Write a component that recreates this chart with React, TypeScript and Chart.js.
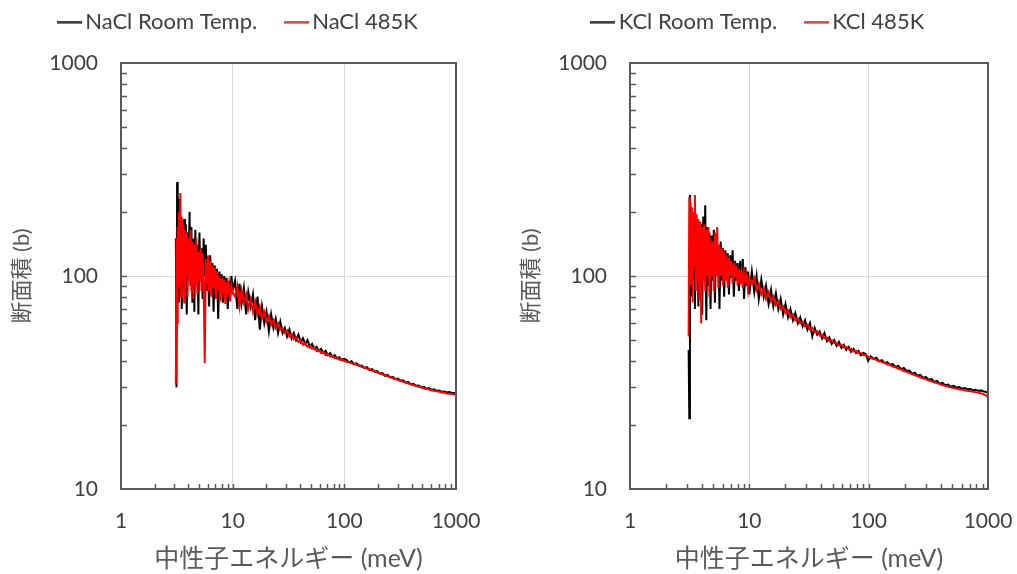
import React, { useEffect, useRef } from "react";
import { Chart, registerables } from "chart.js";

Chart.register(...registerables);

// Neutron energy (meV) sampling points (shared by both panels)
const energy = [
  3.10, 3.14, 3.18, 3.22, 3.26, 3.30, 3.35, 3.40, 3.45, 3.50, 3.56, 3.62, 3.68, 3.74, 3.81, 3.88, 3.95,
  4.03, 4.11, 4.19, 4.27, 4.36, 4.45, 4.54, 4.63, 4.73, 4.83, 4.93, 5.04, 5.15, 5.26, 5.38, 5.50, 5.62,
  5.75, 5.88, 6.01, 6.15, 6.29, 6.44, 6.59, 6.75, 6.91, 7.07, 7.24, 7.42, 7.60, 7.79, 7.98, 8.18, 8.38,
  8.59, 8.81, 9.03, 9.26, 9.50, 9.75, 10.0,
  10.5, 11.0, 11.5, 12.0, 12.6, 13.2, 13.8, 14.5, 15.2, 15.9, 16.7, 17.5, 18.3, 19.2, 20.1, 21.1, 22.1,
  23.2, 24.3, 25.5, 26.7, 28.0, 29.3, 30.7, 32.2, 33.7, 35.3, 37.0, 38.8, 40.7, 42.6, 44.7, 46.8, 49.0,
  51.4, 53.8, 56.4, 59.1, 61.9, 64.9, 68.0, 71.2, 74.7, 78.3, 82.0, 86.0, 90.1, 94.4, 99.0,
  104, 110, 116, 122, 129, 136, 143, 151, 159, 168, 177, 187, 197, 208, 219, 231, 244, 257, 271, 286,
  302, 318, 336, 354, 373, 394, 415, 438, 462, 487, 514, 542, 572, 603, 636, 671, 708, 747, 788, 831,
  877, 925, 976, 1000,
];

const naclRoom = [
  150, 30, 276, 120, 230, 75, 190, 95, 180, 70, 170, 110, 185, 80, 175, 66, 160,
  105, 200, 90, 170, 75, 150, 68, 165, 100, 140, 66, 160, 95, 135, 78, 150, 100,
  140, 85, 120, 72, 125, 95, 115, 68, 112, 88, 108, 63, 105, 85, 102, 75, 100,
  88, 98, 70, 95, 82, 100, 86,
  95, 70, 92, 74, 88, 66, 84, 72, 82, 62, 80, 56, 72, 60, 68, 55, 66,
  57, 63, 54, 61, 54, 57, 52, 56, 51, 54, 50, 53, 49, 51, 48, 50, 46.5,
  48, 45.5, 46.5, 44.5, 45.5, 43.5, 44.5, 42.5, 43.5, 41.8, 42.5, 41, 41.5, 40.2, 40.8,
  40.5, 39.3, 39.8, 38.6, 38.9, 37.8, 38.0, 37.0, 37.3, 36.2, 36.5, 35.5, 35.8, 34.8, 35.0, 34.0, 34.3, 33.4, 33.6, 32.8,
  33.0, 32.2, 32.4, 31.6, 31.8, 31.0, 31.2, 30.5, 30.6, 30.0, 30.2, 29.6, 29.8, 29.2, 29.4, 28.9, 29.0, 28.6, 28.7, 28.4,
  28.5, 28.2, 28.2, 27.9,
];

const nacl485 = [
  31, 150, 60, 170, 90, 200, 110, 245, 80, 190, 95, 175, 75, 165, 100, 160, 80,
  150, 95, 165, 85, 145, 78, 140, 90, 150, 82, 130, 95, 135, 85, 128, 90, 39,
  120, 92, 125, 85, 118, 80, 112, 88, 110, 78, 105, 90, 100, 76, 98, 86, 96,
  74, 94, 84, 92, 76, 90, 84,
  80, 90, 72, 86, 75, 82, 70, 78, 68, 76, 66, 72, 63, 68, 61, 65, 59,
  62, 57, 60, 56, 57, 54, 55.5, 52, 53.5, 50.5, 51.5, 49, 50, 47.5, 48.5, 46.5, 47,
  45.5, 46, 44.5, 45, 43.5, 44, 42.5, 43, 41.8, 42.2, 41.2, 41.5, 40.5, 40.8, 40,
  39.6, 39.4, 38.9, 38.7, 38.2, 38.0, 37.4, 37.3, 36.7, 36.5, 35.9, 35.8, 35.2, 35.0, 34.5, 34.3, 33.8, 33.6, 33.1, 32.9,
  32.5, 32.3, 31.9, 31.7, 31.3, 31.1, 30.7, 30.5, 30.2, 30.0, 29.7, 29.5, 29.3, 29.1, 28.9, 28.8, 28.6, 28.4, 28.3, 28.1,
  28.0, 27.9, 27.8, 27.6,
];

const kclRoom = [
  45, 21.5, 240, 110, 200, 80, 190, 95, 175, 70, 180, 100, 170, 72, 165, 95, 175,
  66, 190, 100, 215, 62, 170, 90, 160, 70, 155, 95, 165, 75, 150, 100, 140, 70,
  145, 95, 135, 80, 132, 100, 128, 82, 125, 98, 132, 80, 118, 95, 115, 85, 118,
  92, 120, 78, 110, 90, 105, 82,
  105, 84, 100, 78, 96, 80, 90, 74, 86, 72, 83, 70, 78, 66, 74, 64, 70,
  62, 67, 60, 64, 58, 62, 56, 60, 52, 57, 53, 55, 51, 54, 49.5, 51.5, 48,
  50, 47, 49, 46, 47.5, 45, 46.5, 44, 45.5, 43.5, 44.5, 42.5, 43.5, 43, 40,
  42.0, 40.8, 41.3, 39.8, 40.3, 39.0, 39.4, 38.3, 38.6, 37.4, 37.8, 36.5, 37.0, 35.8, 36.0, 34.8, 35.2, 34.0, 34.3, 33.2,
  33.6, 32.5, 32.9, 31.8, 32.2, 31.2, 31.5, 30.7, 30.9, 30.2, 30.5, 29.9, 30.1, 29.6, 29.8, 29.4, 29.5, 29.1, 29.2, 28.9,
  29.0, 28.7, 28.5, 28.1,
];

const kcl485 = [
  52, 235, 90, 220, 100, 210, 75, 200, 110, 240, 85, 195, 95, 185, 78, 180, 60,
  170, 95, 175, 85, 165, 100, 170, 80, 150, 100, 145, 85, 160, 100, 170, 88, 140,
  100, 135, 90, 130, 95, 125, 88, 122, 100, 118, 92, 115, 98, 112, 90, 108, 96,
  105, 88, 104, 94, 100, 86, 98,
  92, 98, 86, 92, 82, 88, 78, 84, 76, 80, 73, 76, 70, 72, 67, 69, 64,
  66, 62, 63, 60, 61, 58, 59, 56, 57, 54.5, 55, 52.5, 53, 51, 51.5, 49.5, 50,
  48.5, 48.5, 47.2, 47.5, 46.2, 46.5, 45.2, 45.5, 44.3, 44.5, 43.4, 43.5, 42.6, 42.6, 41.8,
  41.2, 40.9, 40.3, 40.0, 39.4, 39.1, 38.5, 38.2, 37.6, 37.3, 36.7, 36.4, 35.8, 35.5, 35.0, 34.7, 34.2, 33.9, 33.4, 33.1,
  32.7, 32.4, 32.0, 31.7, 31.4, 31.1, 30.8, 30.5, 30.3, 30.0, 29.8, 29.6, 29.4, 29.2, 29.1, 28.9, 28.8, 28.6, 28.5, 28.3,
  28.1, 27.8, 27.4, 27.0,
];

const xTickValues = [1, 10, 100, 1000];
const yTickValues = [10, 100, 1000];
const minorMultipliers = [1, 2, 3, 4, 5, 6, 7, 8, 9];
const xTitle = "中性子エネルギー (meV)";
const yTitle = "断面積 (b)";

const FONT = 'Lato, "Noto Sans CJK JP", sans-serif';
const H = 574;

function legendLine(color: string): HTMLCanvasElement {
  const c = document.createElement("canvas");
  c.width = 25;
  c.height = 3;
  const g = c.getContext("2d");
  if (g) {
    g.fillStyle = color;
    g.fillRect(0, 0.5, 25, 2);
  }
  return c;
}

const legendSpacer = {
  id: "legendSpacer",
  beforeInit(chart: any) {
    const legend = chart.legend;
    if (!legend) return;
    const orig = legend.fit;
    legend.fit = function fit() {
      orig.call(this);
      this.height += 20;
    };
  },
};

const framePlugin = {
  id: "frame",
  afterDatasetsDraw(chart: any) {
    const { ctx, chartArea } = chart;
    const { left, right, top, bottom } = chartArea;
    const xs = chart.scales.x;
    const ys = chart.scales.y;
    ctx.save();
    ctx.strokeStyle = "#595959";
    ctx.lineWidth = 1.5;
    ctx.beginPath();
    for (const d of [1, 10, 100]) {
      for (const k of minorMultipliers) {
        const v = k * d;
        if (v <= 1) continue;
        const px = Math.round(xs.getPixelForValue(v)) + 0.5;
        ctx.moveTo(px, bottom);
        ctx.lineTo(px, bottom - 5);
      }
    }
    for (const d of [10, 100]) {
      for (const k of minorMultipliers) {
        const v = k * d;
        if (v <= 10) continue;
        const py = Math.round(ys.getPixelForValue(v)) + 0.5;
        ctx.moveTo(left, py);
        ctx.lineTo(left + 6, py);
      }
    }
    ctx.stroke();
    ctx.lineWidth = 2;
    ctx.strokeRect(left, top, right - left, bottom - top);
    ctx.restore();
  },
};

type PanelProps = {
  room: number[];
  hot: number[];
  roomLabel: string;
  hotLabel: string;
  left: number;
  width: number;
  padLeft: number;
  padRight: number;
  yAxisWidth: number;
  yTitlePad: number;
};

function Panel(p: PanelProps) {
  const ref = useRef<HTMLCanvasElement | null>(null);
  useEffect(() => {
    if (!ref.current) return;
    const chart = new Chart(ref.current, {
      type: "line",
      data: {
        datasets: [
          {
            label: p.roomLabel,
            data: energy.map((e, i) => ({ x: e, y: p.room[i] })),
            borderColor: "#000000",
            backgroundColor: "#000000",
            borderWidth: 2,
            pointRadius: 0,
            pointStyle: legendLine("#000000"),
            tension: 0,
            order: 1,
          },
          {
            label: p.hotLabel,
            data: energy.map((e, i) => ({ x: e, y: p.hot[i] })),
            borderColor: "#ff0000",
            backgroundColor: "#ff0000",
            borderWidth: 2,
            pointRadius: 0,
            pointStyle: legendLine("#ff0000"),
            tension: 0,
            order: 0,
          },
        ],
      },
      options: {
        responsive: false,
        animation: false,
        devicePixelRatio: 1,
        layout: { padding: { left: p.padLeft, right: p.padRight, top: -23, bottom: 0 } },
        plugins: {
          tooltip: { enabled: false },
          legend: {
            display: true,
            position: "top",
            labels: {
              usePointStyle: true,
              pointStyleWidth: 10,
              padding: 34,
              color: "#404040",
              font: { family: FONT, size: 22 },
              sort: (a: any, b: any) => a.datasetIndex - b.datasetIndex,
            },
          },
        },
        scales: {
          x: {
            type: "logarithmic",
            min: 1,
            max: 1000,
            afterBuildTicks: (s: any) => {
              s.ticks = xTickValues.map((v) => ({ value: v, major: true }));
            },
            afterFit: (s: any) => {
              s.height = 85;
            },
            ticks: {
              color: "#404040",
              font: { family: FONT, size: 21 },
              padding: 20,
              maxRotation: 0,
              autoSkip: false,
              callback: (v: any) => String(v),
            },
            grid: { color: "#d9d9d9", lineWidth: 1, drawTicks: false },
            border: { display: true, color: "#595959", width: 2 },
            title: {
              display: true,
              text: xTitle,
              color: "#595959",
              font: { family: FONT, size: 25 },
              padding: { top: 0, bottom: 0 },
            },
          },
          y: {
            type: "logarithmic",
            min: 10,
            max: 1000,
            afterBuildTicks: (s: any) => {
              s.ticks = yTickValues.map((v) => ({ value: v, major: true }));
            },
            afterFit: (s: any) => {
              s.width = p.yAxisWidth;
            },
            ticks: {
              color: "#404040",
              font: { family: FONT, size: 21 },
              padding: 23,
              autoSkip: false,
              callback: (v: any) => String(v),
            },
            grid: { color: "#d9d9d9", lineWidth: 1, drawTicks: false },
            border: { display: true, color: "#595959", width: 2 },
            title: {
              display: true,
              text: yTitle,
              color: "#595959",
              font: { family: FONT, size: 22 },
              padding: { top: p.yTitlePad, bottom: 0 },
            },
          },
        },
      } as any,
      plugins: [legendSpacer, framePlugin],
    });
    return () => chart.destroy();
  }, []);
  return (
    <div style={{ position: "absolute", left: p.left, top: 0, width: p.width, height: H }}>
      <canvas ref={ref} width={p.width} height={H} style={{ width: p.width, height: H, display: "block" }} />
    </div>
  );
}

export default function App() {
  return (
    <div style={{ position: "absolute", left: 0, top: 0, width: 1017, height: H, background: "#ffffff", overflow: "hidden" }}>
      <Panel
        room={naclRoom}
        hot={nacl485}
        roomLabel="NaCl Room Temp."
        hotLabel="NaCl 485K"
        left={0}
        width={508}
        padLeft={26}
        padRight={52}
        yAxisWidth={95}
        yTitlePad={-17}
      />
      <Panel
        room={kclRoom}
        hot={kcl485}
        roomLabel="KCl Room Temp."
        hotLabel="KCl 485K"
        left={508}
        width={525}
        padLeft={26}
        padRight={45}
        yAxisWidth={96}
        yTitlePad={-16}
      />
    </div>
  );
}
